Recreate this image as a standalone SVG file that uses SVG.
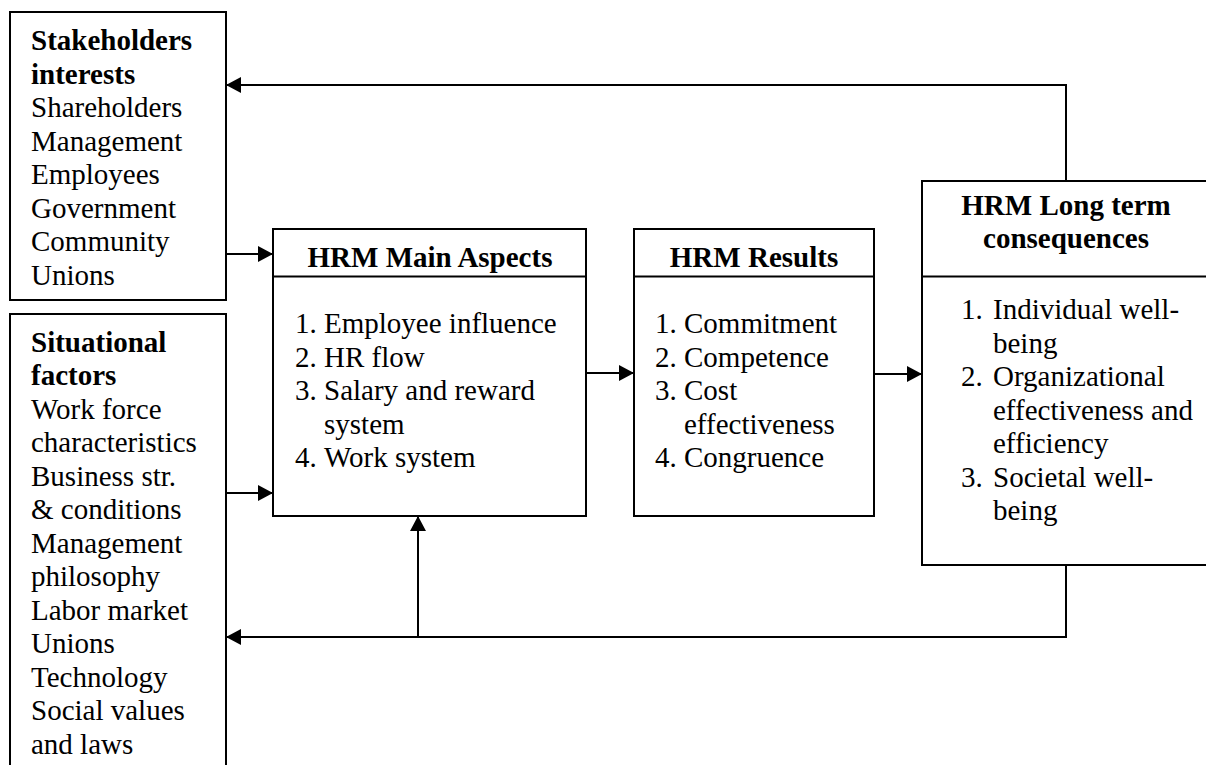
<svg xmlns="http://www.w3.org/2000/svg" width="1206" height="765" viewBox="0 0 1206 765">
<style>
.box{fill:#fff;stroke:#000;stroke-width:2}
.div{stroke:#000;stroke-width:2}
text{font-family:"Liberation Serif","Times New Roman",serif;font-size:29px;fill:#000}
.b{font-weight:bold}
.c{text-anchor:middle}
.con{fill:none;stroke:#000;stroke-width:2}
</style>
<defs>
<marker id="arr" markerUnits="userSpaceOnUse" markerWidth="15" markerHeight="16" refX="15" refY="8" orient="auto">
<path d="M0,0 L15,8 L0,16 z" fill="#000"/>
</marker>
</defs>
<rect width="1206" height="765" fill="#fff"/>
<g id="stakeholders">
<rect class="box" x="10" y="12" width="216" height="288"/>
<text class="b" x="31" y="50">Stakeholders</text>
<text class="b" x="31" y="83.5">interests</text>
<text x="31" y="117">Shareholders</text>
<text x="31" y="150.5">Management</text>
<text x="31" y="184">Employees</text>
<text x="31" y="217.5">Government</text>
<text x="31" y="251">Community</text>
<text x="31" y="284.5">Unions</text>
</g>
<g id="situational">
<rect class="box" x="10" y="314" width="216" height="470"/>
<text class="b" x="31" y="351.5">Situational</text>
<text class="b" x="31" y="385">factors</text>
<text x="31" y="418.5">Work force</text>
<text x="31" y="452">characteristics</text>
<text x="31" y="485.5">Business str.</text>
<text x="31" y="519">&amp; conditions</text>
<text x="31" y="552.5">Management</text>
<text x="31" y="586">philosophy</text>
<text x="31" y="619.5">Labor market</text>
<text x="31" y="653">Unions</text>
<text x="31" y="686.5">Technology</text>
<text x="31" y="720">Social values</text>
<text x="31" y="753.5">and laws</text>
</g>
<g id="main-aspects">
<rect class="box" x="273" y="229" width="313" height="287"/>
<line class="div" x1="273" y1="276.5" x2="586" y2="276.5"/>
<text class="b c" x="430" y="266.5">HRM Main Aspects</text>
<text x="295" y="333">1.</text><text x="324" y="333">Employee influence</text>
<text x="295" y="366.5">2.</text><text x="324" y="366.5">HR flow</text>
<text x="295" y="400">3.</text><text x="324" y="400">Salary and reward</text>
<text x="324" y="433.5">system</text>
<text x="295" y="467">4.</text><text x="324" y="467">Work system</text>
</g>
<g id="results">
<rect class="box" x="634" y="229" width="240" height="287"/>
<line class="div" x1="634" y1="276.5" x2="874" y2="276.5"/>
<text class="b c" x="754" y="266.5">HRM Results</text>
<text x="655" y="333">1.</text><text x="684" y="333">Commitment</text>
<text x="655" y="366.5">2.</text><text x="684" y="366.5">Competence</text>
<text x="655" y="400">3.</text><text x="684" y="400">Cost</text>
<text x="684" y="433.5">effectiveness</text>
<text x="655" y="467">4.</text><text x="684" y="467">Congruence</text>
</g>
<g id="long-term">
<rect class="box" x="922" y="181" width="300" height="384"/>
<line class="div" x1="922" y1="276.5" x2="1206" y2="276.5"/>
<text class="b c" x="1066" y="215">HRM Long term</text>
<text class="b c" x="1066" y="247.5">consequences</text>
<text x="961" y="319">1.</text><text x="993" y="319">Individual well-</text>
<text x="993" y="352.5">being</text>
<text x="961" y="386">2.</text><text x="993" y="386">Organizational</text>
<text x="993" y="419.5">effectiveness and</text>
<text x="993" y="453">efficiency</text>
<text x="961" y="486.5">3.</text><text x="993" y="486.5">Societal well-</text>
<text x="993" y="520">being</text>
</g>
<g id="connectors">
<line class="con" x1="226" y1="254" x2="273" y2="254" marker-end="url(#arr)"/>
<line class="con" x1="226" y1="493" x2="273" y2="493" marker-end="url(#arr)"/>
<line class="con" x1="586" y1="373" x2="634" y2="373" marker-end="url(#arr)"/>
<line class="con" x1="874" y1="374" x2="922" y2="374" marker-end="url(#arr)"/>
<polyline class="con" points="1066,181 1066,85 226,85" marker-end="url(#arr)"/>
<polyline class="con" points="1066,565 1066,637 226,637" marker-end="url(#arr)"/>
<line class="con" x1="418" y1="637" x2="418" y2="516" marker-end="url(#arr)"/>
</g>
</svg>
